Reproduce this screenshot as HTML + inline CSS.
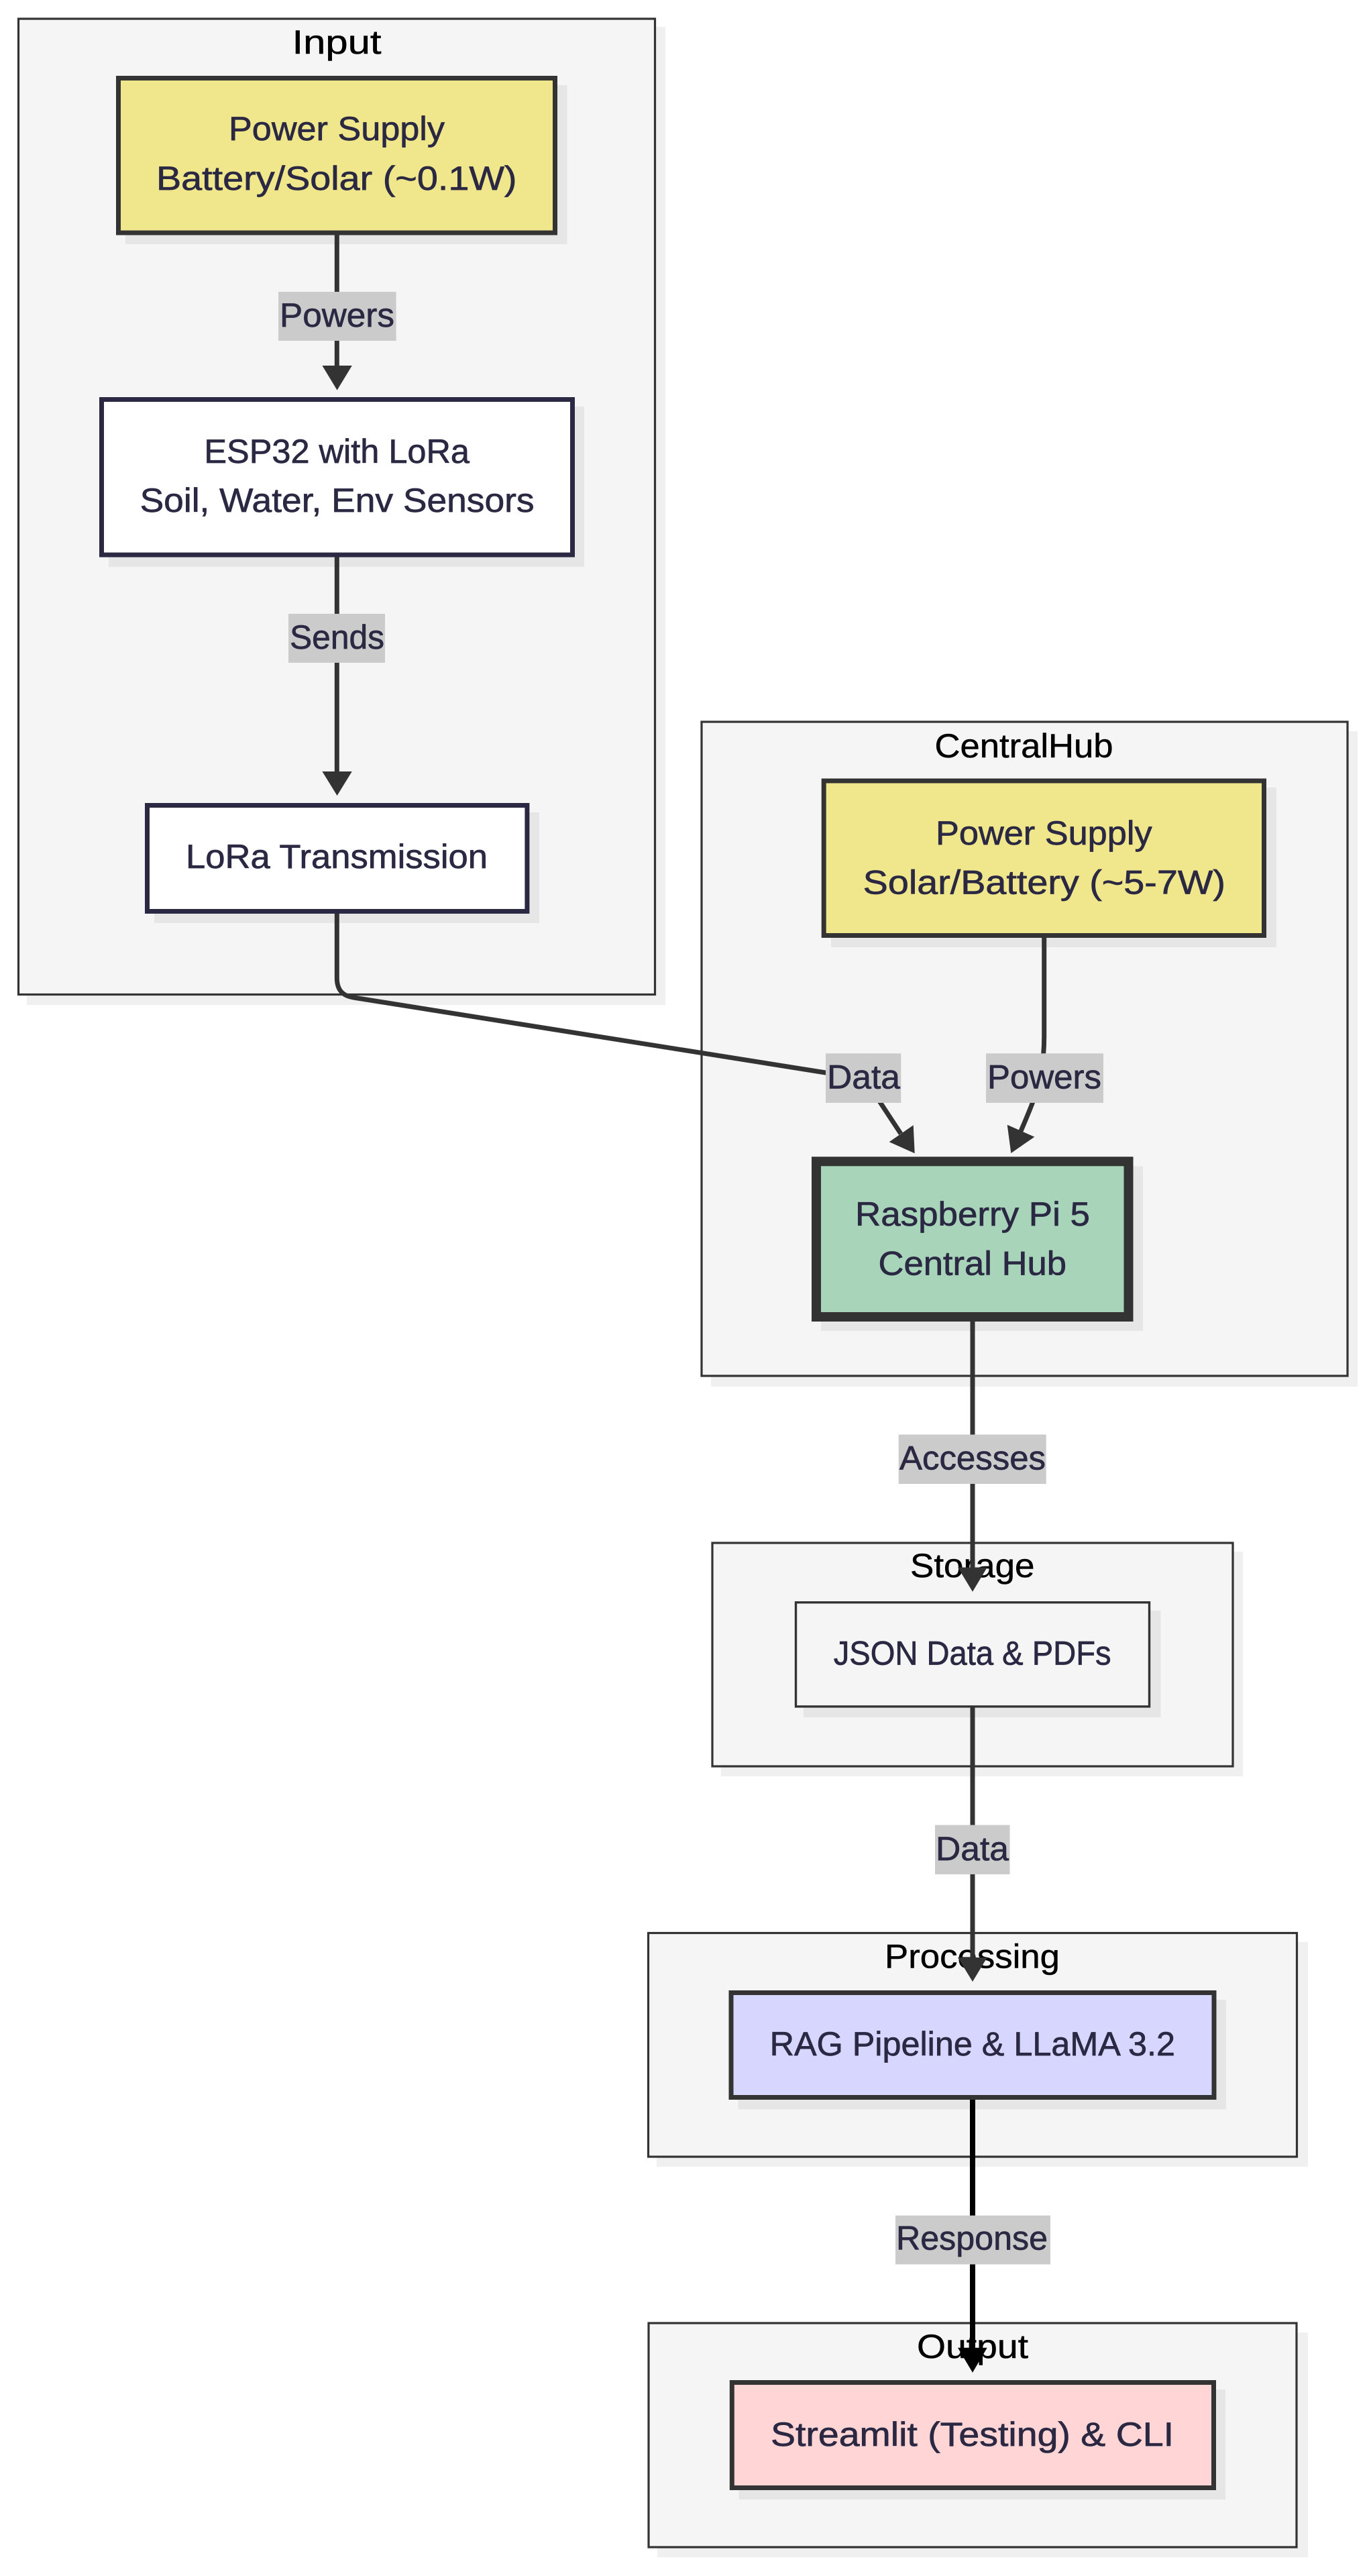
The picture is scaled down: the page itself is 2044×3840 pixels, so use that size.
<!DOCTYPE html>
<html>
<head>
<meta charset="utf-8">
<style>
html,body{margin:0;padding:0;background:#fff;width:2044px;height:3840px;overflow:hidden}
svg{display:block}
text{font-family:"Liberation Sans",sans-serif;font-size:50px;fill:#2a2842;stroke:#2a2842;stroke-width:.7}
text.t{fill:#000;stroke:#000;stroke-width:.5}
.c{fill:#f5f5f5;stroke:#333;stroke-width:3.2}
.s{fill:#000;fill-opacity:.06}
.l{fill:#cbcbcb}
.e{fill:none;stroke:#333;stroke-width:7}
.a{fill:#333}
</style>
</head>
<body>
<svg width="2044" height="3840" viewBox="0 0 2044 3840" xmlns="http://www.w3.org/2000/svg">
<!-- clusters -->
<rect class="s" x="40" y="40" width="952" height="1458"/>
<rect class="c" x="27.5" y="28" width="949" height="1454.5"/>
<rect class="s" x="1060" y="1090" width="964" height="977"/>
<rect class="c" x="1046" y="1076" width="963" height="975"/>
<rect class="s" x="1075" y="2313" width="778" height="335"/>
<rect class="c" x="1062" y="2300" width="776" height="333"/>
<rect class="s" x="979" y="2895" width="971" height="335"/>
<rect class="c" x="966.5" y="2881.5" width="967" height="333.5"/>
<rect class="s" x="980" y="3477" width="970" height="335"/>
<rect class="c" x="967" y="3463" width="966" height="334"/>
<!-- cluster titles -->
<text class="t" lengthAdjust="spacingAndGlyphs" x="435.5" y="80" textLength="133">Input</text>
<text class="t" lengthAdjust="spacingAndGlyphs" x="1393.5" y="1129" textLength="266">CentralHub</text>
<text class="t" lengthAdjust="spacingAndGlyphs" x="1357" y="2351" textLength="185.5">Storage</text>
<text class="t" lengthAdjust="spacingAndGlyphs" x="1319" y="2933.5" textLength="261">Processing</text>
<text class="t" lengthAdjust="spacingAndGlyphs" x="1367" y="3515" textLength="166">Output</text>
<!-- node shadows -->
<rect class="s" x="187" y="127" width="658.5" height="237"/>
<rect class="s" x="162" y="606" width="709" height="239"/>
<rect class="s" x="230" y="1211" width="574" height="165"/>
<rect class="s" x="1239" y="1174" width="664" height="238"/>
<rect class="s" x="1224" y="1738.5" width="480" height="245.5"/>
<rect class="s" x="1198" y="2401" width="532.5" height="159"/>
<rect class="s" x="1100.5" y="2981" width="727.5" height="163.5"/>
<rect class="s" x="1101.5" y="3562" width="725.5" height="164"/>
<!-- nodes -->
<rect x="176.5" y="116.5" width="651" height="230.5" fill="#f0e68c" stroke="#333" stroke-width="7"/>
<rect x="151.5" y="595.5" width="702" height="231.6" fill="#fff" stroke="#2a2842" stroke-width="7"/>
<rect x="219.5" y="1200.5" width="566.4" height="158" fill="#fff" stroke="#2a2842" stroke-width="7"/>
<rect x="1228.2" y="1164" width="656.3" height="230.5" fill="#f0e68c" stroke="#333" stroke-width="7"/>
<rect x="1217" y="1731.3" width="465.5" height="231.7" fill="#a8d5ba" stroke="#333" stroke-width="14"/>
<rect x="1186.5" y="2388.7" width="527" height="155.2" fill="#f5f5f5" stroke="#333" stroke-width="3.4"/>
<rect x="1090" y="2970.5" width="720" height="156" fill="#d6d6ff" stroke="#333" stroke-width="7"/>
<rect x="1091.3" y="3551.5" width="718.2" height="157" fill="#ffd5d5" stroke="#333" stroke-width="7"/>
<!-- node text -->
<text lengthAdjust="spacingAndGlyphs" x="341" y="209" textLength="322">Power Supply</text>
<text lengthAdjust="spacingAndGlyphs" x="233" y="283" textLength="537.5">Battery/Solar (~0.1W)</text>
<text lengthAdjust="spacingAndGlyphs" x="304.4" y="690" textLength="395.6">ESP32 with LoRa</text>
<text lengthAdjust="spacingAndGlyphs" x="208.6" y="763" textLength="588">Soil, Water, Env Sensors</text>
<text lengthAdjust="spacingAndGlyphs" x="277" y="1294" textLength="450">LoRa Transmission</text>
<text lengthAdjust="spacingAndGlyphs" x="1395" y="1259" textLength="322.6">Power Supply</text>
<text lengthAdjust="spacingAndGlyphs" x="1286.7" y="1332.6" textLength="540.3">Solar/Battery (~5-7W)</text>
<text lengthAdjust="spacingAndGlyphs" x="1275" y="1827" textLength="350">Raspberry Pi 5</text>
<text lengthAdjust="spacingAndGlyphs" x="1309.5" y="1900.6" textLength="280.5">Central Hub</text>
<text lengthAdjust="spacingAndGlyphs" x="1242.7" y="2481.7" textLength="413.9">JSON Data &amp; PDFs</text>
<text lengthAdjust="spacingAndGlyphs" x="1147.7" y="3064" textLength="604.3">RAG Pipeline &amp; LLaMA 3.2</text>
<text lengthAdjust="spacingAndGlyphs" x="1149" y="3646" textLength="601">Streamlit (Testing) &amp; CLI</text>
<!-- edges -->
<path class="e" d="M502.3 350V550"/>
<polygon class="a" points="480.4,545 524.8,545 502.6,581.6"/>
<path class="e" d="M502.3 830V1155"/>
<polygon class="a" points="480.4,1150 524.8,1150 502.6,1186"/>
<path class="e" d="M502.3 1362V1458C502.3 1476 511 1484.5 527 1487L1230.6 1599L1270 1605C1290 1610 1300 1625 1312.7 1644L1343 1690"/>
<polygon class="a" points="1361.7,1677.3 1363.7,1719.3 1325.7,1702.3"/>
<path class="e" d="M1556.7 1398V1545C1556.7 1590 1548 1622 1539.3 1644C1534 1658 1528 1672 1521.7 1686.7"/>
<polygon class="a" points="1501.7,1676.7 1507.3,1719 1542.3,1694.7"/>
<path class="e" d="M1450 1970V2342"/>
<polygon class="a" points="1428,2336.5 1471.7,2336.5 1450,2372.7"/>
<path class="e" d="M1450 2545V2924"/>
<polygon class="a" points="1428,2918 1471.7,2918 1450,2954"/>
<path d="M1450 3130V3505" fill="none" stroke="#000" stroke-width="8"/>
<polygon fill="#000" points="1428,3499.7 1471.7,3499.7 1450,3536.7"/>
<!-- edge labels -->
<rect class="l" x="415" y="435" width="175.6" height="73"/>
<text lengthAdjust="spacingAndGlyphs" x="417" y="487" textLength="171">Powers</text>
<rect class="l" x="430" y="915" width="144" height="73"/>
<text lengthAdjust="spacingAndGlyphs" x="432" y="967" textLength="141">Sends</text>
<rect class="l" x="1231" y="1570.3" width="112.3" height="73.7"/>
<text lengthAdjust="spacingAndGlyphs" x="1233" y="1622.7" textLength="109">Data</text>
<rect class="l" x="1470" y="1570.3" width="175" height="73.7"/>
<text lengthAdjust="spacingAndGlyphs" x="1472" y="1622.7" textLength="170">Powers</text>
<rect class="l" x="1339.7" y="2138.5" width="220" height="73.5"/>
<text lengthAdjust="spacingAndGlyphs" x="1341" y="2190.7" textLength="218">Accesses</text>
<rect class="l" x="1394" y="2720.5" width="111.5" height="73.5"/>
<text lengthAdjust="spacingAndGlyphs" x="1395" y="2772.8" textLength="109">Data</text>
<rect class="l" x="1335" y="3302.6" width="231" height="72.9"/>
<text lengthAdjust="spacingAndGlyphs" x="1336" y="3353.5" textLength="226">Response</text>
</svg>
</body>
</html>
